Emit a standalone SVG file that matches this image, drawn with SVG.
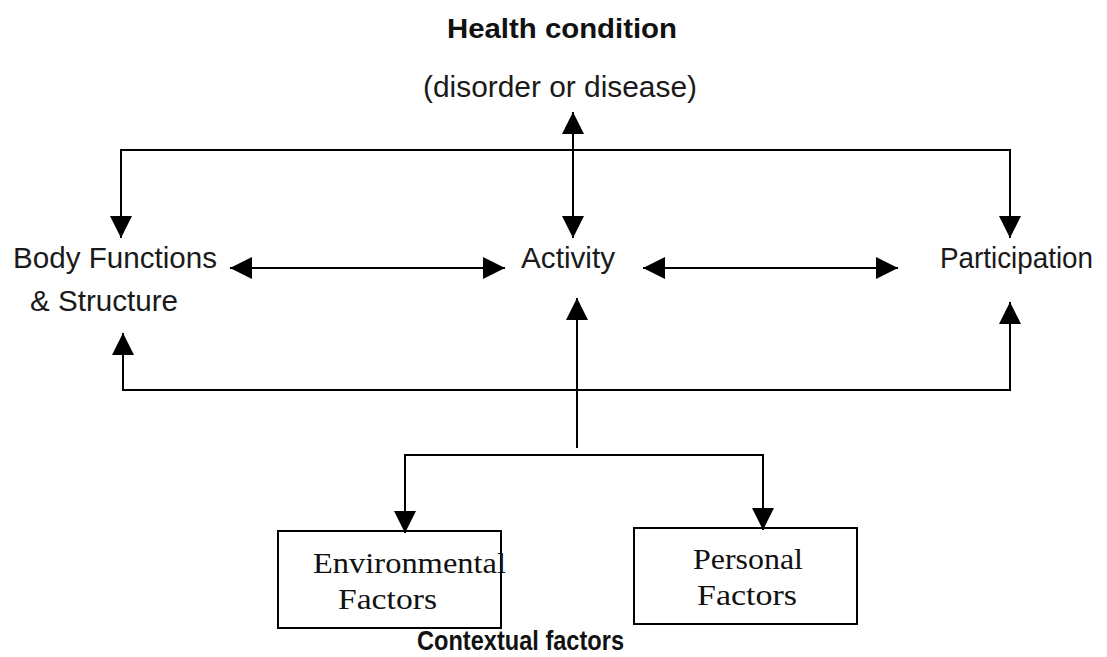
<svg xmlns="http://www.w3.org/2000/svg" width="1107" height="657" viewBox="0 0 1107 657">
<style>
.s{font-family:"Liberation Sans",Arial,sans-serif;font-size:29px;fill:#1a1a1a}
.b{font-family:"Liberation Sans",Arial,sans-serif;font-size:28px;font-weight:bold;fill:#111}
.r{font-family:"Liberation Serif","Times New Roman",serif;font-size:30px;fill:#111}
.l{fill:none;stroke:#000;stroke-width:2}
.box{fill:#fff;stroke:#000;stroke-width:2}
</style>
<defs>
<marker id="ah" viewBox="0 0 10 10" refX="10" refY="5" markerWidth="22" markerHeight="22" markerUnits="userSpaceOnUse" orient="auto-start-reverse">
<path d="M0,0 L10,5 L0,10 Z" fill="#000"/>
</marker>
</defs>
<rect width="1107" height="657" fill="#fff"/>
<g id="health">
<text class="b" x="447" y="38" textLength="230" lengthAdjust="spacingAndGlyphs">Health condition</text>
<text class="s" x="423" y="97" textLength="274" lengthAdjust="spacingAndGlyphs">(disorder or disease)</text>
</g>
<g id="body">
<text class="s" x="13" y="268" textLength="204" lengthAdjust="spacingAndGlyphs">Body Functions</text>
<text class="s" x="30" y="311" textLength="148" lengthAdjust="spacingAndGlyphs">&amp; Structure</text>
</g>
<g id="activity">
<text class="s" x="521" y="268" textLength="94" lengthAdjust="spacingAndGlyphs">Activity</text>
</g>
<g id="participation">
<text class="s" x="940" y="268" textLength="153" lengthAdjust="spacingAndGlyphs">Participation</text>
</g>
<g id="environmental">
<rect class="box" x="278" y="531" width="223" height="97"/>
<text class="r" x="313" y="573" textLength="193" lengthAdjust="spacingAndGlyphs">Environmental</text>
<text class="r" x="338" y="609" textLength="99" lengthAdjust="spacingAndGlyphs">Factors</text>
</g>
<g id="personal">
<rect class="box" x="634" y="528" width="223" height="96"/>
<text class="r" x="693" y="569" textLength="110" lengthAdjust="spacingAndGlyphs">Personal</text>
<text class="r" x="697" y="605" textLength="100" lengthAdjust="spacingAndGlyphs">Factors</text>
</g>
<g id="contextual">
<text class="b" x="417" y="650" font-size="26" textLength="207" lengthAdjust="spacingAndGlyphs">Contextual factors</text>
</g>
<g id="connectors">
<path class="l" d="M121,238 V150 H1010 V238" marker-start="url(#ah)" marker-end="url(#ah)"/>
<path class="l" d="M573,112 V238" marker-start="url(#ah)" marker-end="url(#ah)"/>
<path class="l" d="M230,268 H505" marker-start="url(#ah)" marker-end="url(#ah)"/>
<path class="l" d="M643,268 H898" marker-start="url(#ah)" marker-end="url(#ah)"/>
<path class="l" d="M123,333 V390 H1010 V302" marker-start="url(#ah)" marker-end="url(#ah)"/>
<path class="l" d="M577,448 V298" marker-end="url(#ah)"/>
<path class="l" d="M405,533 V455 H763 V530" marker-start="url(#ah)" marker-end="url(#ah)"/>
</g>
</svg>
